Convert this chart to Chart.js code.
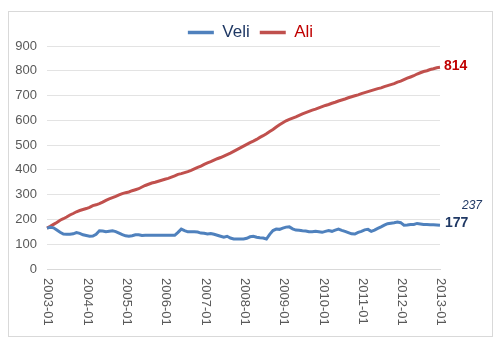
<!DOCTYPE html>
<html>
<head>
<meta charset="utf-8">
<script src="https://cdn.jsdelivr.net/npm/chart.js@4/dist/chart.umd.min.js"></script>
<style>
  html, body { margin: 0; padding: 0; background: #fff; }
  .frame {
    position: absolute; left: 8px; top: 11px;
    width: 485px; height: 326px;
    border: 1px solid #d9d9d9; box-sizing: border-box;
  }
</style>
</head>
<body>
<div class="frame"><canvas id="chart"></canvas></div>
<script>
// Monthly series, 2003-01 .. 2013-01
const years = ['2003','2004','2005','2006','2007','2008','2009','2010','2011','2012','2013'];
const months = ['01','02','03','04','05','06','07','08','09','10','11','12'];

const veli = [
  165,168,166,157,148,141,140,140,142,147,144,138,
  135,132,133,140,154,153,150,152,154,151,145,139,
  134,132,134,138,138,135,136,136,136,136,136,136,
  136,136,136,136,148,161,155,150,150,150,149,145,
  144,141,143,140,136,132,128,132,125,121,121,121,
  121,124,130,132,128,126,125,121,140,155,161,160,
  165,169,170,162,157,156,154,153,150,150,152,150,
  148,152,155,152,157,161,156,152,147,142,141,148,
  152,158,160,152,157,164,170,177,183,185,187,190,
  187,177,178,180,180,184,182,180,180,179,179,178,
  177
];

const ali = [
  165,172,180,188,197,203,210,218,224,231,236,240,
  244,249,256,259,264,270,277,283,288,293,299,304,
  308,311,316,320,324,331,337,342,347,350,354,358,
  362,366,371,376,382,385,389,393,398,404,410,415,
  422,428,433,439,445,450,456,462,468,475,482,489,
  496,503,510,516,523,531,538,546,555,563,573,582,
  590,598,604,609,614,620,626,631,636,641,645,650,
  655,660,664,669,673,678,682,686,691,695,699,703,
  708,712,716,720,724,728,731,736,740,744,748,754,
  758,764,770,775,780,787,792,797,800,805,808,812,
  814
];

const extraNote = '237';

const labels = [];
years.forEach(y => months.forEach(m => labels.push(y + '-' + m)));
labels.length = veli.length;

const BLUE = '#4f81bd', RED = '#c0504d';
const BLUE_TXT = '#1f3864', RED_TXT = '#c00000';
const FONT = "'Liberation Sans', Arial, sans-serif";

// x labels drawn top-to-bottom, plus end-of-line value labels
const extras = {
  id: 'extras',
  beforeLayout(chart) {
    // keep the legend's horizontal spacing but trim its height
    const lg = chart.legend;
    if (lg && !lg._trimmed) {
      const fit = lg.fit;
      lg.fit = function () { fit.call(this); this.height = 32; };
      lg._trimmed = true;
    }
  },
  afterDraw(chart) {
    const ctx = chart.ctx;
    const x = chart.scales.x, y = chart.scales.y;
    ctx.save();
    ctx.font = '13px ' + FONT;
    ctx.fillStyle = '#595959';
    ctx.textAlign = 'left';
    ctx.textBaseline = 'middle';
    labels.forEach((l, i) => {
      if (!l.endsWith('-01')) return;
      const px = x.getPixelForValue(i);
      ctx.save();
      ctx.translate(px + 1, chart.chartArea.bottom + 9);
      ctx.rotate(Math.PI / 2);
      ctx.fillText(l, 0, 0);
      ctx.restore();
    });

    const last = veli.length - 1;
    const xe = x.getPixelForValue(last);
    ctx.font = 'bold 14px ' + FONT;
    ctx.fillStyle = RED_TXT;
    ctx.fillText(String(ali[last]), xe + 4, y.getPixelForValue(ali[last]) - 1);
    ctx.fillStyle = BLUE_TXT;
    ctx.fillText(String(veli[last]), xe + 5, y.getPixelForValue(veli[last]) - 2);
    ctx.font = 'italic 12px ' + FONT;
    ctx.fillText(extraNote, xe + 22, y.getPixelForValue(veli[last]) - 19);
    ctx.restore();
  }
};

new Chart(document.getElementById('chart'), {
  type: 'line',
  data: {
    labels: labels,
    datasets: [
      { label: 'Veli', data: veli, borderColor: BLUE, backgroundColor: BLUE, borderWidth: 3, pointRadius: 0, tension: 0 },
      { label: 'Ali', data: ali, borderColor: RED, backgroundColor: RED, borderWidth: 3, pointRadius: 0, tension: 0 }
    ]
  },
  options: {
    responsive: true,
    maintainAspectRatio: false,
    animation: false,
    layout: { padding: { top: 2, right: 0, bottom: 67, left: 0 } },
    plugins: {
      tooltip: { enabled: false },
      legend: {
        position: 'top',
        labels: {
          font: { family: FONT, size: 17 },
          usePointStyle: true,
          pointStyleWidth: 26,
          padding: 10,
          generateLabels: chart => chart.data.datasets.map((d, i) => ({
            text: d.label,
            fillStyle: d.borderColor,
            strokeStyle: d.borderColor,
            lineWidth: 3.5,
            pointStyle: 'line',
            fontColor: i === 0 ? BLUE_TXT : RED_TXT,
            datasetIndex: i
          }))
        }
      }
    },
    scales: {
      x: {
        grid: { display: false },
        border: { color: '#d9d9d9' },
        ticks: { display: false },
        afterFit: s => { s.height = 0; }
      },
      y: {
        min: 0, max: 900,
        ticks: { stepSize: 100, color: '#595959', font: { family: FONT, size: 13 }, padding: 10 },
        grid: { color: '#e3e3e3', drawTicks: false },
        border: { display: false },
        afterFit: s => { s.width = 38; }
      },
      // empty right-hand gutter for the end labels
      gutter: {
        position: 'right',
        min: 0, max: 900,
        ticks: { display: false },
        grid: { display: false },
        border: { display: false },
        afterFit: s => { s.width = 52; }
      }
    }
  },
  plugins: [extras]
});
</script>
</body>
</html>
